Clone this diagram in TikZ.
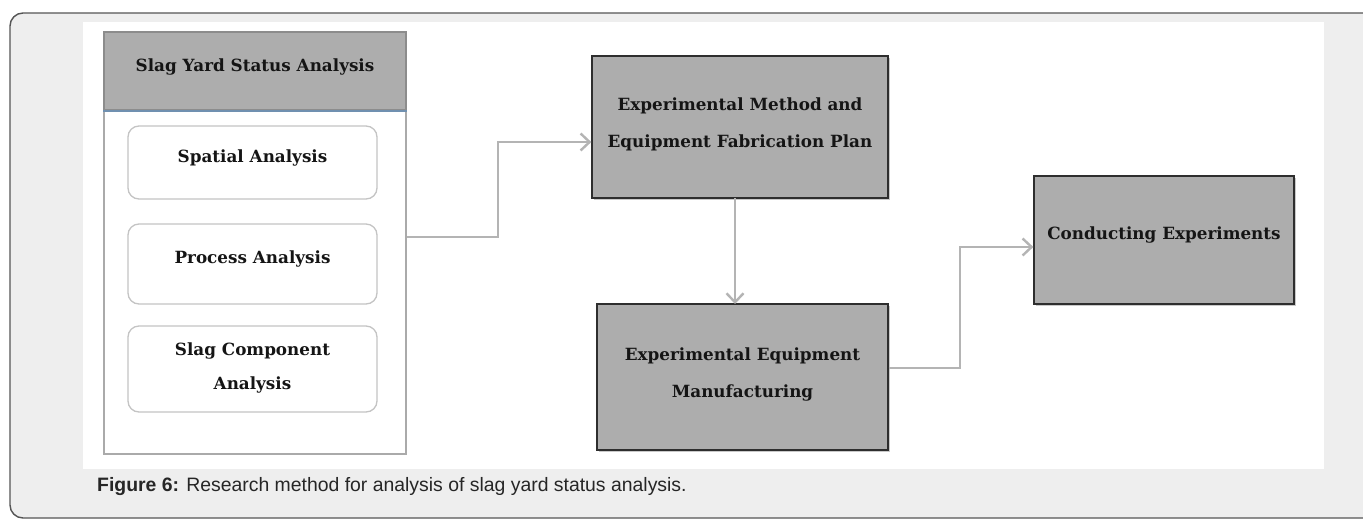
\documentclass[tikz,border=0pt]{standalone}
\usepackage{fontspec}
\setmainfont{DejaVu Serif}
\newfontfamily\capfont{Liberation Sans}
\usetikzlibrary{arrows.meta,shadows,calc}
\definecolor{bggray}{HTML}{EEEEEE}
\definecolor{framecol}{HTML}{555555}
\definecolor{boxfill}{HTML}{ADADAD}
\definecolor{boxline}{HTML}{2E2E2E}
\definecolor{panelline}{HTML}{AAAAAA}
\definecolor{headline}{HTML}{8C8C8C}
\definecolor{blueline}{HTML}{7090B0}
\definecolor{roundline}{HTML}{C4C4C4}
\definecolor{arrowcol}{HTML}{B4B4B4}
\definecolor{txtcol}{HTML}{151515}
\tikzset{
  graybox/.style={draw=boxline, line width=1.3pt, fill=boxfill, inner sep=0pt,
    drop shadow={shadow xshift=2pt, shadow yshift=-2pt, opacity=0.35, fill=black!60}},
  roundbox/.style={draw=roundline, line width=1.3pt, fill=white, rounded corners=11pt, inner sep=0pt},
  boxtext/.style={font=\bfseries\fontsize{16.8}{37}\selectfont, text=txtcol, align=center, inner sep=0pt},
  flow/.style={draw=arrowcol, line width=2.8pt, -{Straight Barb[length=9pt,width=17pt,line width=2.4pt]}},
}
\begin{document}
\begin{tikzpicture}[x=1pt,y=-1pt]
\useasboundingbox (0,0) rectangle (1363,520);
% outer frame
\fill[white] (0,0) rectangle (1363,520);
\draw[framecol, line width=1.4pt, fill=bggray, rounded corners=13pt] (1375,13) -- (10,13) -- (10,518) -- (1375,518);
\fill[white] (83,22) rectangle (1324,469);
% left panel
\node (panel) [draw=panelline, line width=2.2pt, fill=white, minimum width=302pt, minimum height=422pt, inner sep=0pt] at (255,243) {};
\node (head) [draw=headline, line width=1.8pt, fill=boxfill, minimum width=302pt, minimum height=78pt, inner sep=0pt] at (255,71) {};
\draw[blueline, line width=1.2pt] (head.south west) -- (head.south east);
\node (headt) [boxtext] at (255,67) {Slag Yard Status Analysis};
\node (r1) [roundbox, minimum width=249pt, minimum height=73pt] at (252.5,162.5) {};
\node (r1t) [boxtext] at (252.5,158) {Spatial Analysis};
\node (r2) [roundbox, minimum width=249pt, minimum height=80pt] at (252.5,264) {};
\node (r2t) [boxtext] at (252.5,259) {Process Analysis};
\node (r3) [roundbox, minimum width=249pt, minimum height=86pt] at (252.5,369) {};
\node (r3t) [boxtext, font=\bfseries\fontsize{16.8}{34}\selectfont] at (252.5,368) {Slag Component\\Analysis};
% right boxes
\node (b1) [graybox, minimum width=296pt, minimum height=142pt] at (740,127) {};
\node (b1t) [boxtext] at (740,124) {Experimental Method and\\Equipment Fabrication Plan};
\node (b2) [graybox, minimum width=291pt, minimum height=146pt] at (742.5,377) {};
\node (b2t) [boxtext] at (742.5,374.5) {Experimental Equipment\\Manufacturing};
\node (b3) [graybox, minimum width=260pt, minimum height=128pt] at (1164,240) {};
\node (b3t) [boxtext] at (1164,235) {Conducting Experiments};
% connectors
\coordinate (p1) at (panel.east |- 0,237);
\draw[flow] (p1) -- (498,237) -- (498,142) -- (b1.west |- 0,142);
\draw[flow] (735,198) -- (735,304);
\coordinate (p2) at (b2.east |- 0,368);
\draw[flow] (p2) -- (960,368) -- (960,247) -- (b3.west |- 0,247);
% caption
\node (cap) [anchor=west, inner sep=0pt, font=\capfont\fontsize{19.4}{22}\selectfont, text=black!85] at (97,487) {\textbf{Figure 6:} Research method for analysis of slag yard status analysis.};
\end{tikzpicture}
\end{document}
